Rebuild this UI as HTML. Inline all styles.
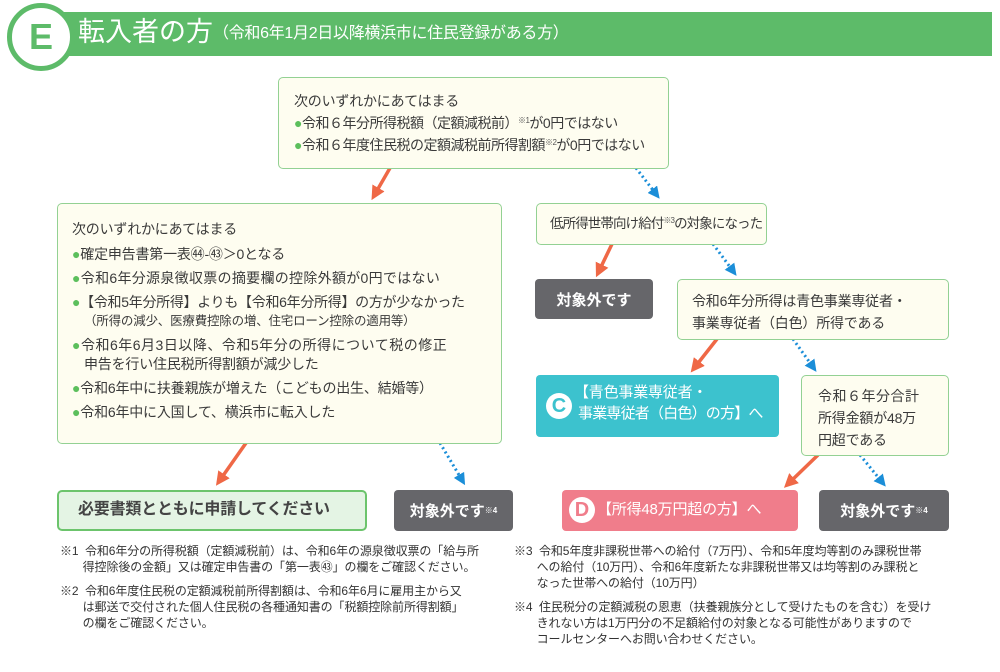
<!DOCTYPE html>
<html><head><meta charset="utf-8"><style>
*{margin:0;padding:0;box-sizing:border-box}
body{width:1000px;height:672px;background:#fff;position:relative;overflow:hidden;font-family:"Liberation Sans","Noto Sans CJK JP",sans-serif;color:#3a3a3a}
.a{position:absolute}
.box{position:absolute;background:#fefdf0;border:1.5px solid #93d193;border-radius:5px}
.t{position:absolute;white-space:nowrap;font-size:14px;line-height:1;letter-spacing:-0.2px}
.dot{color:#5cbf5c}
sup{font-size:8px;vertical-align:5px;color:#555}
.gray{position:absolute;background:#66666a;border-radius:4px;color:#fff;font-size:15px;font-weight:bold;display:flex;align-items:center;justify-content:center}
.fn{position:absolute;font-size:12px;line-height:16px;white-space:nowrap;color:#333;letter-spacing:-0.1px}
</style></head><body>
<div class="a" style="left:52px;top:12px;width:940px;height:44px;background:#5dbb69"></div>
<div class="a" style="left:7px;top:3px;width:68px;height:68px;border-radius:50%;background:#fff;border:5px solid #5dbb69"></div>
<div class="a" style="left:15px;top:11px;width:52px;height:52px;border-radius:50%;background:#fff;color:#5dbb69;font-size:36px;font-weight:bold;text-align:center;line-height:52px">E</div>
<div class="t" style="left:78px;top:19px;font-size:27px;color:#fff;letter-spacing:0">転入者の方<span style="font-size:16px;vertical-align:3px;letter-spacing:-0.3px">（令和6年1月2日以降横浜市に住民登録がある方）</span></div>

<svg class="a" style="left:0;top:0" width="1000" height="672">
<defs>
<marker id="o" markerWidth="4" markerHeight="4" refX="2" refY="2" orient="auto"><path d="M0,0L4,2L0,4z" fill="#ef6846"/></marker>
<marker id="b" markerWidth="4" markerHeight="4" refX="2" refY="2" orient="auto"><path d="M0,0L4,2L0,4z" fill="#1b8ed8"/></marker>
</defs>
<g stroke="#ef6846" stroke-width="3.5" marker-end="url(#o)">
<line x1="390" y1="168" x2="375" y2="194"/>
<line x1="246" y1="443" x2="220" y2="480"/>
<line x1="612" y1="244" x2="599" y2="271"/>
<line x1="717" y1="339" x2="695" y2="367"/>
<line x1="818" y1="455" x2="789" y2="483"/>
</g>
<g stroke="#1b8ed8" stroke-width="3" stroke-dasharray="2,3" marker-end="url(#b)">
<line x1="636" y1="168" x2="656" y2="194"/>
<line x1="440" y1="443" x2="462" y2="480"/>
<line x1="713" y1="244" x2="733" y2="271"/>
<line x1="793" y1="339" x2="813" y2="367"/>
<line x1="860" y1="455" x2="882" y2="482"/>
</g>
</svg>

<div class="box" style="left:278px;top:77px;width:391px;height:92px"></div>
<div class="t" style="left:294px;top:94px">次のいずれかにあてはまる</div>
<div class="t" style="left:294px;top:116px;letter-spacing:-0.5px"><span class="dot">●</span>令和６年分所得税額（定額減税前）<sup>※1</sup>が0円ではない</div>
<div class="t" style="left:294px;top:138px;letter-spacing:-0.5px"><span class="dot">●</span>令和６年度住民税の定額減税前所得割額<sup>※2</sup>が0円ではない</div>

<div class="box" style="left:57px;top:203px;width:445px;height:241px"></div>
<div class="t" style="left:72px;top:222px">次のいずれかにあてはまる</div>
<div class="t" style="left:72px;top:247px"><span class="dot">●</span>確定申告書第一表㊹-㊸＞0となる</div>
<div class="t" style="left:72px;top:271px;letter-spacing:0.3px"><span class="dot">●</span>令和6年分源泉徴収票の摘要欄の控除外額が0円ではない</div>
<div class="t" style="left:72px;top:295px;letter-spacing:-0.3px"><span class="dot">●</span>【令和5年分所得】よりも【令和6年分所得】の方が少なかった</div>
<div class="t" style="left:84px;top:315px;font-size:12.5px">（所得の減少、医療費控除の増、住宅ローン控除の適用等）</div>
<div class="t" style="left:72px;top:338px;letter-spacing:0.5px"><span class="dot">●</span>令和6年6月3日以降、令和5年分の所得について税の修正</div>
<div class="t" style="left:84px;top:357px">申告を行い住民税所得割額が減少した</div>
<div class="t" style="left:72px;top:381px"><span class="dot">●</span>令和6年中に扶養親族が増えた（こどもの出生、結婚等）</div>
<div class="t" style="left:72px;top:405px"><span class="dot">●</span>令和6年中に入国して、横浜市に転入した</div>

<div class="box" style="left:536px;top:203px;width:231px;height:42px"></div>
<div class="t" style="left:550px;top:217px;font-size:13.5px;letter-spacing:-0.9px">低所得世帯向け給付<sup>※3</sup>の対象になった</div>

<div class="gray" style="left:535px;top:279px;width:118px;height:40px">対象外です</div>
<div class="box" style="left:677px;top:279px;width:272px;height:61px"></div>
<div class="t" style="left:692px;top:294px">令和6年分所得は青色事業専従者・</div>
<div class="t" style="left:692px;top:316px">事業専従者（白色）所得である</div>

<div class="a" style="left:536px;top:375px;width:243px;height:62px;background:#3cc2ce;border-radius:4px"></div>
<div class="a" style="left:546px;top:393px;width:26px;height:26px;border-radius:50%;background:#fff;color:#3cc2ce;font-weight:bold;font-size:20px;text-align:center;line-height:26px">C</div>
<div class="t" style="left:574px;top:385px;color:#fff;font-size:15px">【青色事業専従者・</div>
<div class="t" style="left:578px;top:406px;color:#fff;font-size:15px;letter-spacing:-0.8px">事業専従者（白色）の方】へ</div>

<div class="box" style="left:801px;top:375px;width:148px;height:81px"></div>
<div class="t" style="left:818px;top:389px;letter-spacing:0.5px">令和６年分合計</div>
<div class="t" style="left:818px;top:411px">所得金額が48万</div>
<div class="t" style="left:818px;top:433px">円超である</div>

<div class="a" style="left:57px;top:490px;width:310px;height:41px;background:#e4f4e4;border:2px solid #6cc46c;border-radius:5px"></div>
<div class="t" style="left:78px;top:502px;font-size:16px;font-weight:bold;color:#444">必要書類とともに申請してください</div>
<div class="gray" style="left:394px;top:490px;width:119px;height:41px">対象外です<sup style="color:#fff">※4</sup></div>
<div class="a" style="left:562px;top:490px;width:236px;height:41px;background:#f07d8b;border-radius:4px"></div>
<div class="a" style="left:569px;top:497px;width:26px;height:26px;border-radius:50%;background:#fff;color:#f07d8b;font-weight:bold;font-size:20px;text-align:center;line-height:26px">D</div>
<div class="t" style="left:597px;top:502px;color:#fff;font-size:15px">【所得48万円超の方】へ</div>
<div class="gray" style="left:819px;top:490px;width:130px;height:41px">対象外です<sup style="color:#fff">※4</sup></div>

<div class="fn" style="left:60px;top:543px">※1&nbsp; 令和6年分の所得税額（定額減税前）は、令和6年の源泉徴収票の「給与所<br>&nbsp;&nbsp;&nbsp;&nbsp;&nbsp;&nbsp;&nbsp;得控除後の金額」又は確定申告書の「第一表㊸」の欄をご確認ください。</div>
<div class="fn" style="left:60px;top:583px">※2&nbsp; 令和6年度住民税の定額減税前所得割額は、令和6年6月に雇用主から又<br>&nbsp;&nbsp;&nbsp;&nbsp;&nbsp;&nbsp;&nbsp;は郵送で交付された個人住民税の各種通知書の「税額控除前所得割額」<br>&nbsp;&nbsp;&nbsp;&nbsp;&nbsp;&nbsp;&nbsp;の欄をご確認ください。</div>
<div class="fn" style="left:514px;top:543px">※3&nbsp; 令和5年度非課税世帯への給付（7万円）、令和5年度均等割のみ課税世帯<br>&nbsp;&nbsp;&nbsp;&nbsp;&nbsp;&nbsp;&nbsp;への給付（10万円）、令和6年度新たな非課税世帯又は均等割のみ課税と<br>&nbsp;&nbsp;&nbsp;&nbsp;&nbsp;&nbsp;&nbsp;なった世帯への給付（10万円）</div>
<div class="fn" style="left:514px;top:599px">※4&nbsp; 住民税分の定額減税の恩恵（扶養親族分として受けたものを含む）を受け<br>&nbsp;&nbsp;&nbsp;&nbsp;&nbsp;&nbsp;&nbsp;きれない方は1万円分の不足額給付の対象となる可能性がありますので<br>&nbsp;&nbsp;&nbsp;&nbsp;&nbsp;&nbsp;&nbsp;コールセンターへお問い合わせください。</div>
</body></html>
